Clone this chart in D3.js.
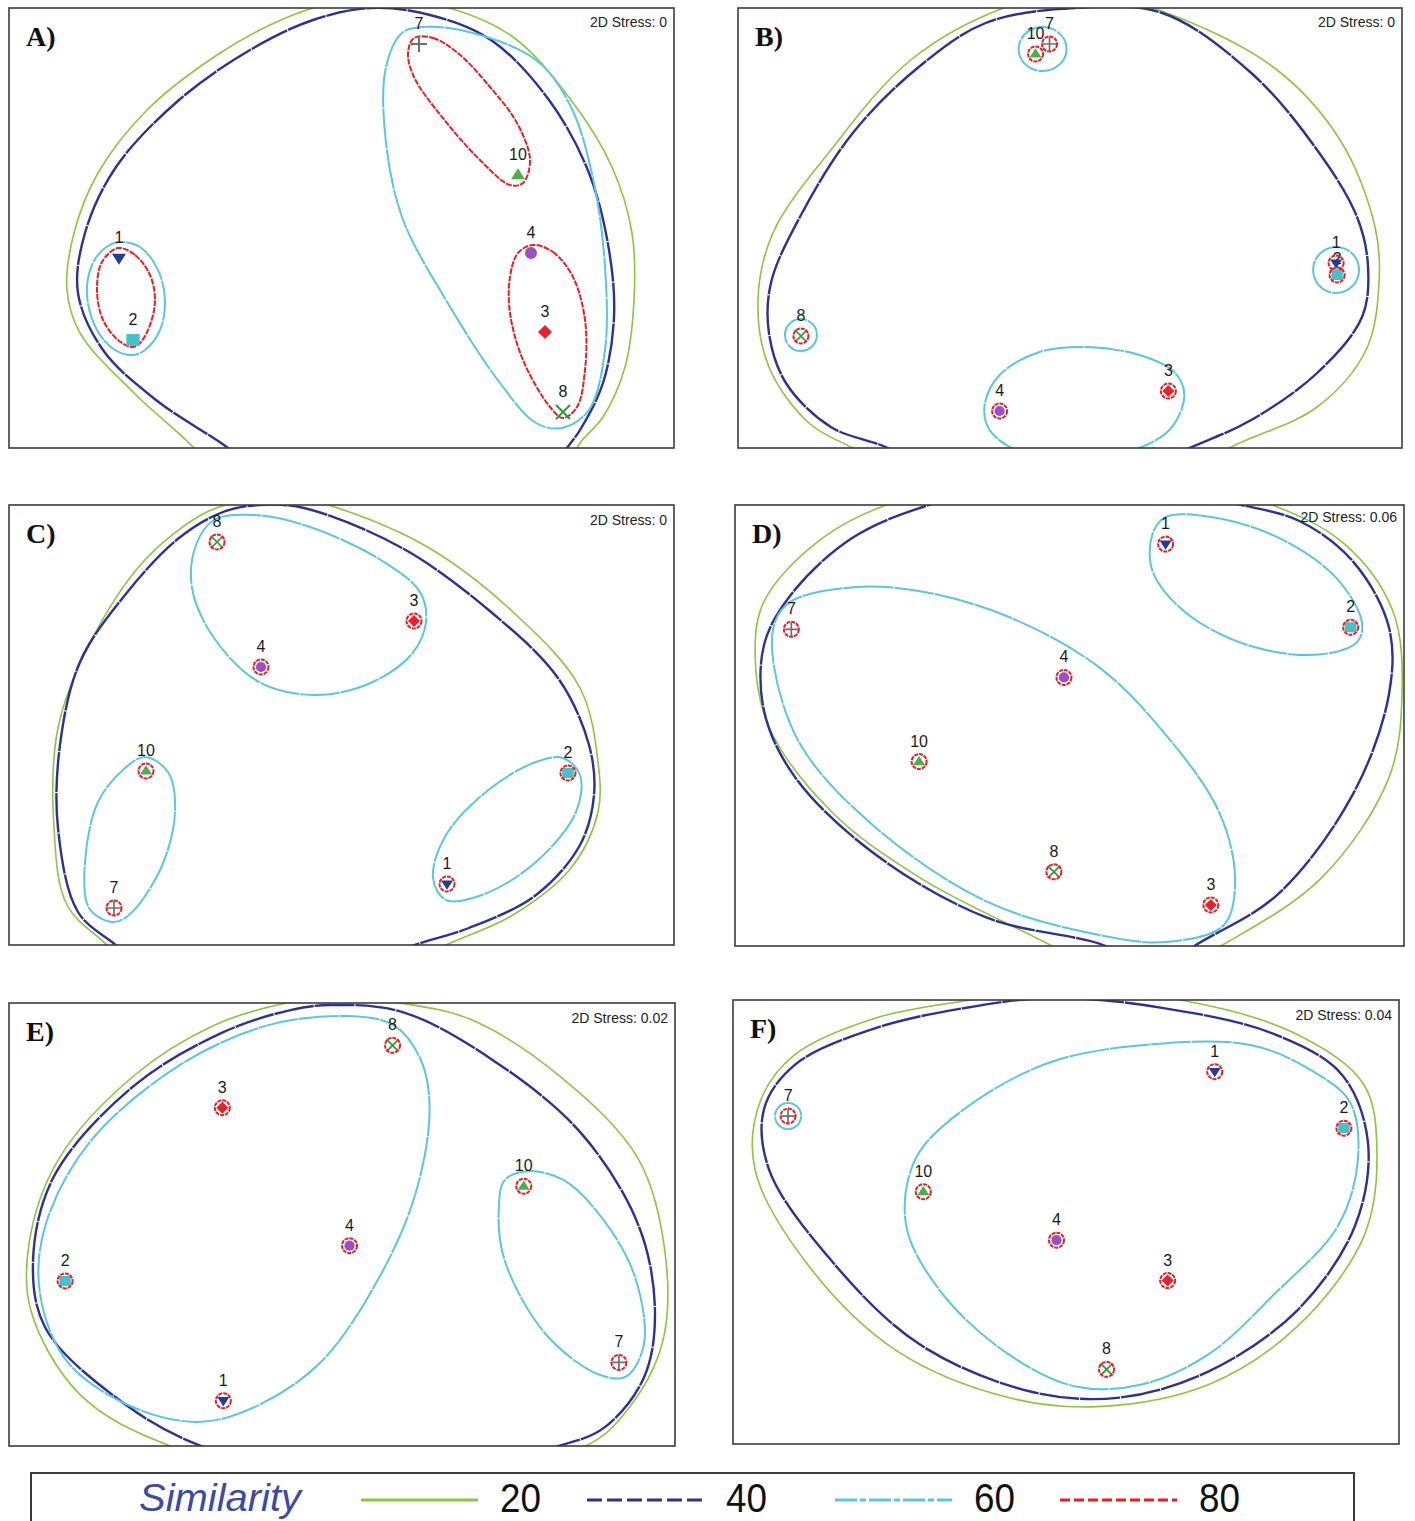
<!DOCTYPE html>
<html>
<head>
<meta charset="utf-8">
<script src="https://cdn.jsdelivr.net/npm/d3@7"></script>
<style>
  body { margin: 0; background: #ffffff; }
  svg { display: block; }
</style>
</head>
<body>
<svg id="chart" width="1415" height="1521"></svg>
<script>
// ---------------------------------------------------------------
// Data: stations, stress values, similarity levels
// ---------------------------------------------------------------
const stations = [1, 2, 3, 4, 7, 8, 10];
const panelLetters = ["A)", "B)", "C)", "D)", "E)", "F)"];
const stressValues = ["0", "0", "0", "0.06", "0.02", "0.04"];
const similarityLevels = [20, 40, 60, 80];

// nMDS coordinates (MDS1, MDS2) per station, in the order of `stations`
const ordA = [[1.10, 1.90], [1.24, 1.08], [5.36, 1.16], [5.22, 1.95], [4.10, 4.04], [5.54, 0.36], [5.09, 2.73]];
const ordB = [[5.99, 1.85], [6.00, 1.73], [4.31, 0.57], [2.62, 0.37], [3.12, 4.04], [0.63, 1.12], [2.98, 3.94]];
const ordC = [[4.38, 0.61], [5.59, 1.72], [4.05, 3.24], [2.52, 2.78], [1.05, 0.37], [2.08, 4.03], [1.37, 1.74]];
const ordD = [[4.28, 4.01], [6.12, 3.18], [4.73, 0.41], [3.27, 2.68], [0.56, 3.16], [3.17, 0.74], [1.83, 1.84]];
const ordE = [[2.14, 0.45], [0.56, 1.64], [2.13, 3.36], [3.40, 1.99], [6.09, 0.83], [3.83, 3.98], [5.14, 2.58]];
const ordF = [[4.81, 3.69], [6.10, 3.13], [4.34, 1.62], [3.23, 2.02], [0.55, 3.25], [3.73, 0.74], [1.90, 2.50]];

// Similarity contours traced in ordination space
const contoursA = [
  { level: 20, pts: [[1.85,0.00],[1.25,0.55],[0.71,1.15],[0.58,1.58],[0.65,2.15],[0.89,2.75],[1.38,3.38],[2.05,3.91],[2.61,4.23],[3.11,4.42],[3.71,4.50],[4.37,4.41],[5.04,4.11],[5.62,3.48],[6.03,2.81],[6.23,2.15],[6.25,1.48],[6.16,0.81],[5.94,0.31],[5.71,0.05],[5.56,-0.22],[4.71,-0.62],[2.91,-0.62],[2.06,-0.27]] },
  { level: 40, pts: [[2.19,0.00],[1.47,0.48],[0.94,0.98],[0.69,1.55],[0.76,2.15],[1.07,2.81],[1.70,3.48],[2.41,3.98],[3.04,4.28],[3.62,4.40],[4.21,4.33],[4.82,4.08],[5.40,3.48],[5.80,2.75],[6.00,1.98],[6.05,1.31],[5.94,0.65],[5.71,0.18],[5.58,0.00],[5.41,-0.27],[3.91,-0.57],[2.51,-0.27]] },
  { level: 60, pts: [[4.13,4.21],[4.60,4.16],[5.27,3.88],[5.62,3.41],[5.85,2.65],[5.96,1.81],[5.96,0.98],[5.80,0.38],[5.53,0.20],[5.27,0.25],[4.91,0.65],[4.37,1.48],[3.93,2.31],[3.76,3.15],[3.77,3.81],[3.93,4.15]] },
  { level: 60, pts: [[1.11,2.06],[1.31,2.01],[1.49,1.78],[1.56,1.48],[1.51,1.18],[1.36,0.98],[1.24,0.93],[1.06,0.98],[0.88,1.18],[0.78,1.53],[0.83,1.83],[0.96,2.00]] },
  { level: 80, pts: [[1.09,2.00],[1.26,1.93],[1.41,1.73],[1.46,1.48],[1.41,1.23],[1.31,1.05],[1.23,1.01],[1.09,1.08],[0.94,1.28],[0.88,1.58],[0.93,1.86]] },
  { level: 80, pts: [[4.05,4.10],[4.24,4.10],[4.50,3.94],[4.81,3.61],[5.08,3.25],[5.21,2.88],[5.14,2.65],[5.01,2.63],[4.71,2.88],[4.33,3.31],[4.05,3.71],[3.99,3.95]] },
  { level: 80, pts: [[5.24,2.03],[5.44,1.96],[5.64,1.71],[5.76,1.28],[5.76,0.78],[5.68,0.41],[5.54,0.30],[5.41,0.41],[5.14,0.88],[5.01,1.35],[5.01,1.71],[5.09,1.95]] }
];
const contoursB = [
  { level: 20, pts: [[3.42,4.56],[4.16,4.40],[5.36,3.81],[6.03,3.08],[6.38,2.21],[6.42,1.65],[6.29,0.98],[5.80,0.41],[4.92,0.00],[4.12,-0.47],[2.12,-0.47],[1.15,0.00],[0.71,0.25],[0.31,0.81],[0.20,1.48],[0.35,2.15],[0.93,2.98],[1.73,3.88],[2.66,4.40]] },
  { level: 40, pts: [[3.37,4.40],[4.25,4.35],[5.14,3.75],[5.80,2.98],[6.20,2.31],[6.31,1.81],[6.25,1.31],[5.80,0.75],[5.14,0.28],[4.52,0.00],[3.62,-0.37],[2.12,-0.37],[1.50,0.00],[0.93,0.21],[0.48,0.65],[0.31,1.15],[0.33,1.65],[0.62,2.31],[1.15,3.15],[1.81,3.81],[2.48,4.25]] },
  { level: 60, pts: [[3.50,1.01],[4.02,0.93],[4.37,0.76],[4.47,0.53],[4.32,0.18],[3.82,-0.07],[3.32,-0.14],[2.82,-0.04],[2.52,0.18],[2.47,0.43],[2.62,0.73],[3.02,0.96]] }
];
const contoursC = [
  { level: 20, pts: [[0.98,0.00],[0.58,0.40],[0.45,1.17],[0.49,2.17],[0.80,3.00],[1.34,3.83],[1.92,4.30],[2.23,4.42],[2.66,4.49],[3.12,4.42],[4.15,4.00],[5.04,3.33],[5.71,2.57],[5.89,1.83],[5.89,1.33],[5.62,0.77],[5.04,0.30],[4.37,0.00],[3.21,-0.55],[1.51,-0.50]] },
  { level: 40, pts: [[1.07,0.00],[0.69,0.33],[0.49,1.17],[0.51,2.00],[0.71,2.83],[1.16,3.50],[1.70,4.07],[2.14,4.33],[2.50,4.40],[2.95,4.37],[3.93,3.97],[4.82,3.33],[5.49,2.67],[5.80,2.00],[5.85,1.50],[5.71,1.00],[5.27,0.50],[4.60,0.17],[4.06,0.00],[2.91,-0.45],[1.61,-0.40]] },
  { level: 60, pts: [[2.05,4.25],[1.87,4.00],[1.83,3.57],[2.05,3.07],[2.50,2.63],[3.04,2.50],[3.57,2.60],[4.02,2.90],[4.17,3.23],[4.11,3.53],[3.75,3.83],[3.04,4.17],[2.46,4.30]] },
  { level: 60, pts: [[1.36,1.88],[1.59,1.73],[1.66,1.33],[1.52,0.77],[1.20,0.30],[1.03,0.23],[0.80,0.37],[0.76,0.83],[0.89,1.43],[1.16,1.77]] },
  { level: 60, pts: [[5.54,1.87],[5.71,1.70],[5.67,1.33],[5.27,0.83],[4.73,0.50],[4.37,0.45],[4.24,0.67],[4.37,1.10],[4.82,1.57],[5.27,1.83]] }
];
const contoursD = [
  { level: 20, pts: [[1.58,4.43],[0.83,4.04],[0.29,3.44],[0.20,2.91],[0.34,2.18],[0.96,1.34],[1.84,0.68],[3.17,-0.01],[3.95,-0.44],[4.81,-0.01],[5.83,0.68],[6.50,1.68],[6.63,2.51],[6.54,3.34],[6.06,4.01],[5.26,4.43],[3.45,4.86]] },
  { level: 40, pts: [[2.02,4.43],[1.18,4.08],[0.56,3.51],[0.29,3.01],[0.29,2.34],[0.60,1.68],[1.40,0.91],[2.51,0.28],[3.71,-0.01],[4.15,-0.30],[4.55,-0.01],[5.39,0.51],[6.14,1.51],[6.50,2.51],[6.50,3.18],[6.14,3.84],[5.61,4.24],[4.90,4.43],[3.45,4.76]] },
  { level: 60, pts: [[4.28,4.28],[4.73,4.28],[5.39,4.08],[5.97,3.68],[6.23,3.24],[6.19,3.04],[5.83,2.91],[5.17,2.98],[4.50,3.31],[4.15,3.74],[4.15,4.11]] },
  { level: 60, pts: [[0.56,3.44],[1.18,3.58],[1.84,3.54],[2.73,3.28],[3.62,2.78],[4.28,2.11],[4.81,1.34],[4.97,0.68],[4.86,0.21],[4.28,0.04],[3.62,0.11],[2.51,0.44],[1.40,1.18],[0.65,2.01],[0.38,2.84],[0.40,3.24]] }
];
const contoursE = [
  { level: 20, pts: [[3.84,4.41],[4.60,4.24],[5.49,3.68],[6.29,2.84],[6.56,1.84],[6.52,1.01],[6.16,0.34],[5.76,0.00],[3.71,-0.49],[1.61,0.00],[0.71,0.51],[0.22,1.34],[0.20,2.01],[0.49,2.84],[1.25,3.68],[2.05,4.18],[2.81,4.41],[3.31,4.47]] },
  { level: 40, pts: [[3.21,4.38],[3.93,4.31],[4.82,3.84],[5.71,3.11],[6.29,2.18],[6.45,1.34],[6.34,0.68],[5.94,0.18],[5.49,0.00],[3.91,-0.39],[1.92,0.00],[1.03,0.51],[0.36,1.18],[0.24,1.84],[0.45,2.68],[1.25,3.58],[2.14,4.11],[2.81,4.33]] },
  { level: 60, pts: [[3.39,4.27],[3.84,4.18],[4.11,3.84],[4.20,3.34],[4.06,2.51],[3.70,1.68],[3.12,0.84],[2.50,0.41],[1.92,0.24],[1.25,0.38],[0.58,0.84],[0.31,1.51],[0.36,2.18],[0.80,3.01],[1.70,3.78],[2.59,4.18]] },
  { level: 60, pts: [[5.18,2.73],[5.54,2.64],[5.94,2.24],[6.25,1.68],[6.34,1.01],[6.16,0.69],[5.89,0.71],[5.36,1.11],[4.95,1.84],[4.89,2.34],[4.95,2.64]] }
];
const contoursF = [
  { level: 20, pts: [[3.19,4.49],[4.52,4.39],[5.63,4.06],[6.30,3.56],[6.43,2.89],[6.30,2.06],[5.63,1.16],[4.75,0.59],[3.64,0.37],[2.75,0.46],[1.64,0.92],[0.76,1.76],[0.22,2.72],[0.27,3.39],[0.62,3.86],[1.42,4.22],[2.31,4.39]] },
  { level: 40, pts: [[3.19,4.42],[4.30,4.32],[5.41,4.06],[6.08,3.66],[6.34,2.99],[6.21,2.16],[5.63,1.32],[4.75,0.72],[3.86,0.46],[2.97,0.52],[1.86,0.99],[0.98,1.82],[0.36,2.72],[0.31,3.32],[0.62,3.76],[1.42,4.12],[2.31,4.32]] },
  { level: 60, pts: [[4.30,3.97],[5.19,3.95],[5.78,3.70],[6.16,3.39],[6.24,2.82],[6.04,2.16],[5.41,1.49],[4.75,0.89],[4.08,0.59],[3.42,0.57],[2.75,0.89],[2.09,1.49],[1.73,2.16],[1.82,2.82],[2.31,3.32],[3.19,3.79]] }
];

// Tight groups at 60 % drawn as ellipses: [cx, cy, rx, ry]
const ringsB = [
  { level: 60, e: [3.05, 3.99, 0.24, 0.22] },
  { level: 60, e: [5.99, 1.78, 0.23, 0.23] },
  { level: 60, e: [0.63, 1.13, 0.16, 0.16] }
];
const ringsF = [
  { level: 60, e: [0.55, 3.25, 0.13, 0.13] }
];

// ---------------------------------------------------------------
// Layout and styling
// ---------------------------------------------------------------
const panels = [
  { box: [9, 8, 674, 448],        ord: ordA, contours: contoursA, rings: [],     singles80: false, stressY: 27,   labelDy: {} },
  { box: [738, 8, 1402, 448],     ord: ordB, contours: contoursB, rings: ringsB, singles80: true,  stressY: 27,   labelDy: { 2: -11 } },
  { box: [9, 505, 674, 945],      ord: ordC, contours: contoursC, rings: [],     singles80: true,  stressY: 525,  labelDy: {} },
  { box: [735, 505, 1404, 946],   ord: ordD, contours: contoursD, rings: [],     singles80: true,  stressY: 522,  labelDy: {} },
  { box: [9, 1003, 675, 1446],    ord: ordE, contours: contoursE, rings: [],     singles80: true,  stressY: 1023, labelDy: {} },
  { box: [733, 1000, 1399, 1444], ord: ordF, contours: contoursF, rings: ringsF, singles80: true,  stressY: 1020, labelDy: {} }
];

const levelStyle = {
  20: { stroke: "#8cc63f", width: 1.6, dash: null },
  40: { stroke: "#2e3192", width: 2.4, dash: "40,1" },
  60: { stroke: "#5bc6e0", width: 2.0, dash: "40,1" },
  80: { stroke: "#ee1d23", width: 2.0, dash: "6,1.3" }
};

const markerStyle = {
  1:  { shape: "triDown", fill: "#1e3f96" },
  2:  { shape: "square",  fill: "#46c0c9" },
  3:  { shape: "diamond", fill: "#e8202a" },
  4:  { shape: "circle",  fill: "#9b4fc3" },
  7:  { shape: "plus",    stroke: "#707070" },
  8:  { shape: "times",   stroke: "#2a9a3a" },
  10: { shape: "triUp",   fill: "#4cae4c" }
};

function markerPath(shape, s) {
  switch (shape) {
    case "triDown": return `M${-s},${-0.6*s}L${s},${-0.6*s}L0,${0.95*s}Z`;
    case "triUp":   return `M${-s},${0.6*s}L${s},${0.6*s}L0,${-0.95*s}Z`;
    case "square":  return `M${-s*0.95},${-s*0.85}H${s*0.95}V${s*0.85}H${-s*0.95}Z`;
    case "diamond": return `M0,${-s}L${s},0L0,${s}L${-s},0Z`;
    case "circle":  return d3.symbol(d3.symbolCircle, Math.PI * s * s)();
    case "plus":    return `M${-s},0H${s}M0,${-s}V${s}`;
    case "times":   return `M${-s},${-s}L${s},${s}M${-s},${s}L${s},${-s}`;
  }
}

const svg = d3.select("#chart");
const defs = svg.append("defs");
const labelFont = "'Liberation Sans', Arial, Helvetica, sans-serif";

panels.forEach((p, i) => {
  const [x0, y0, x1, y1] = p.box;
  const x = d3.scaleLinear().domain([0, 6.65]).range([x0, x1]);
  const y = d3.scaleLinear().domain([0, 4.40]).range([y1, y0]);

  defs.append("clipPath").attr("id", "clip" + i)
    .append("rect").attr("x", x0).attr("y", y0).attr("width", x1 - x0).attr("height", y1 - y0);

  const g = svg.append("g");
  const inner = g.append("g").attr("clip-path", `url(#clip${i})`);

  // contours, drawn from the lowest similarity up
  const line = d3.line().x(d => x(d[0])).y(d => y(d[1]))
    .curve(d3.curveCatmullRomClosed.alpha(0.5));

  similarityLevels.forEach(lv => {
    const st = levelStyle[lv];
    p.contours.filter(c => c.level === lv).forEach(c => {
      inner.append("path").attr("d", line(c.pts))
        .attr("fill", "none").attr("stroke", st.stroke)
        .attr("stroke-width", st.width)
        .attr("stroke-dasharray", st.dash);
    });
    p.rings.filter(r => r.level === lv).forEach(r => {
      const [cx, cy, rx, ry] = r.e;
      inner.append("ellipse")
        .attr("cx", x(cx)).attr("cy", y(cy))
        .attr("rx", x(rx) - x(0)).attr("ry", y(0) - y(ry))
        .attr("fill", "none").attr("stroke", st.stroke)
        .attr("stroke-width", st.width)
        .attr("stroke-dasharray", st.dash);
    });
  });

  // station labels (under the markers, so a crowded label sits behind)
  stations.forEach((s, k) => {
    const [mx, my] = p.ord[k];
    const dy = p.labelDy[s] !== undefined ? p.labelDy[s] : -15;
    g.append("text")
      .attr("x", x(mx)).attr("y", y(my) + dy)
      .attr("text-anchor", "middle")
      .attr("font-family", labelFont).attr("font-size", 16)
      .attr("fill", "#1a1a1a")
      .text(s);
  });

  // station markers
  const big = !p.singles80;
  const size = big ? 7 : 6;
  const markers = g.append("g").attr("clip-path", `url(#clip${i})`);
  stations.forEach((s, k) => {
    const [mx, my] = p.ord[k];
    const ms = markerStyle[s];
    const px = x(mx), py = y(my);
    const ss = ms.shape === "circle" ? size * 0.85 : (ms.shape === "plus" ? size * 1.15 : size);
    const m = markers.append("path")
      .attr("transform", `translate(${px},${py})`)
      .attr("d", markerPath(ms.shape, ss));
    if (ms.fill) m.attr("fill", ms.fill).attr("stroke", "none");
    else m.attr("fill", "none").attr("stroke", ms.stroke).attr("stroke-width", big ? 2 : 1.7);

    if (p.singles80) {
      const st = levelStyle[80];
      markers.append("circle").attr("cx", px).attr("cy", py).attr("r", 7.5)
        .attr("fill", "none").attr("stroke", st.stroke)
        .attr("stroke-width", 2).attr("stroke-dasharray", "4,1");
    }
  });

  // frame
  g.append("rect").attr("x", x0).attr("y", y0)
    .attr("width", x1 - x0).attr("height", y1 - y0)
    .attr("fill", "none").attr("stroke", "#3b3b3b").attr("stroke-width", 1.6);

  // panel letter and stress
  g.append("text").attr("x", x0 + 17).attr("y", y0 + 38)
    .attr("font-family", "'Liberation Serif', 'Times New Roman', serif")
    .attr("font-weight", "bold").attr("font-size", 28)
    .attr("fill", "#111").text(panelLetters[i]);

  g.append("text").attr("x", x1 - 7).attr("y", p.stressY)
    .attr("text-anchor", "end")
    .attr("font-family", labelFont).attr("font-size", 14)
    .attr("fill", "#222").text("2D Stress: " + stressValues[i]);
});

// ---------------------------------------------------------------
// Legend
// ---------------------------------------------------------------
const legend = svg.append("g");
legend.append("rect").attr("x", 31).attr("y", 1473).attr("width", 1323).attr("height", 70)
  .attr("fill", "none").attr("stroke", "#3b3b3b").attr("stroke-width", 2);

legend.append("text").attr("x", 139).attr("y", 1511)
  .attr("font-family", labelFont).attr("font-style", "italic")
  .attr("font-size", 38).attr("fill", "#3c4aa6")
  .attr("textLength", 162).attr("lengthAdjust", "spacingAndGlyphs")
  .text("Similarity");

const legendX = d3.scaleOrdinal().domain(similarityLevels).range([361, 587, 835, 1060]);
const legendDash = { 20: null, 40: "15,5", 60: "22,3,6,3", 80: "10,4" };
similarityLevels.forEach(lv => {
  const lx = legendX(lv);
  legend.append("line")
    .attr("x1", lx).attr("x2", lx + 117)
    .attr("y1", 1500).attr("y2", 1500)
    .attr("stroke", levelStyle[lv].stroke).attr("stroke-width", 3)
    .attr("stroke-dasharray", legendDash[lv]);
  legend.append("text").attr("x", lx + 139).attr("y", 1512)
    .attr("font-family", labelFont).attr("font-size", 40)
    .attr("fill", "#111")
    .attr("textLength", 41).attr("lengthAdjust", "spacingAndGlyphs")
    .text(lv);
});
</script>
</body>
</html>
